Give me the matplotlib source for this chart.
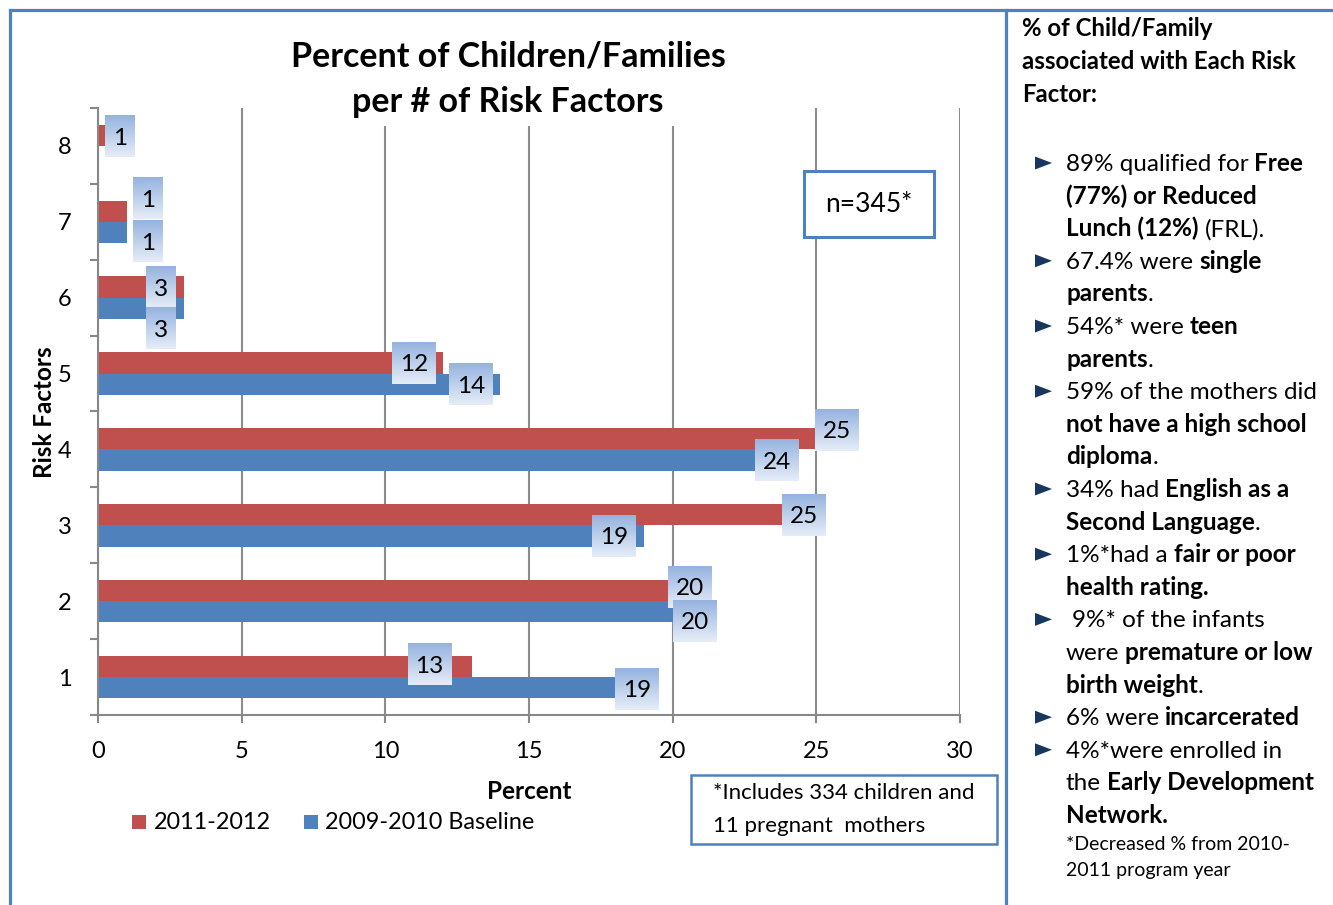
import matplotlib
matplotlib.use('Agg')
import matplotlib.pyplot as plt
import numpy as np
from matplotlib.patches import Rectangle, Polygon
from matplotlib.lines import Line2D

# ---------------- data ----------------
categories = [1, 2, 3, 4, 5, 6, 7, 8]
series_names = ['2011-2012', '2009-2010 Baseline']
values_2011 = [13, 20, 23.8, 25, 12, 3, 1, 0.25]
values_2009 = [19, 20, 19, 24, 14, 3, 1, 0]
labels_2011 = ['13', '20', '25', '25', '12', '3', '1', '1']
labels_2009 = ['19', '20', '19', '24', '14', '3', '1', '']
x_ticks = [0, 5, 10, 15, 20, 25, 30]

# label placement (pixels: dx from bar end, dy from bar centre, downward)
off_2011 = [(-42, -2), (17, -4), (22, 0), (21, -9), (-29, 0), (-23, 0), (21, -13), (15, 1)]
off_2009 = [(-7, 1), (22, 9), (-30, 0), (-11, 0), (-29, 0), (-23, 20), (21, 9), (0, 0)]

W, H = 1333, 905
plt.rcParams['font.family'] = ['Lato', 'DejaVu Sans']
fig = plt.figure(figsize=(W / 100, H / 100), dpi=100)
RED = '#C0504D'
BLUE = '#4F81BD'
GRID = '#8C8C8C'


def fx(px):
    return px / W


def fy(py):
    return 1 - py / H


ax = fig.add_axes([fx(98), fy(715), (960 - 98) / W, (715 - 108) / H])
bh = 0.28
y = np.array(categories, float)
ax.barh(y + bh / 2, values_2011, height=bh, color=RED, zorder=2, label=series_names[0])
ax.barh(y - bh / 2, values_2009, height=bh, color=BLUE, zorder=2, label=series_names[1])
ax.set_xlim(0, 30)
ax.set_ylim(0.5, 8.5)
ax.set_xticks(x_ticks)
ax.set_yticks(categories)
ax.set_yticks(np.arange(0.5, 9, 1), minor=True)
ax.tick_params(axis='y', which='major', length=0, pad=19, labelsize=17)
ax.tick_params(axis='y', which='minor', length=6, width=1.5, color='#888888', direction='out')
ax.tick_params(axis='x', length=6, width=1.5, color='#888888', pad=13, labelsize=17)
for s in ['top', 'right']:
    ax.spines[s].set_visible(False)
for s in ['left', 'bottom']:
    ax.spines[s].set_color('#888888')
    ax.spines[s].set_linewidth(1.5)
ax.grid(axis='x', color=GRID, lw=1.5)
ax.set_axisbelow(True)

# gradient data labels
top_c = np.array([0x95, 0xB3, 0xDF]) / 255
bot_c = np.array([0xE6, 0xED, 0xF8]) / 255
t = np.linspace(0, 1, 64)[:, None, None]
grad_img = top_c[None, None, :] * (1 - t) + bot_c[None, None, :] * t

inv = ax.transData.inverted()


def draw_label(val, yc, text, dxp, dyp):
    if not text:
        return
    bx, by = ax.transData.transform((val, yc))
    cx, cy = bx + dxp, by - dyp
    w = 16 + 14 * len(text)
    h = 42
    x0, y0 = inv.transform((cx - w / 2, cy - h / 2))
    x1, y1 = inv.transform((cx + w / 2, cy + h / 2))
    ax.imshow(grad_img, extent=[x0, x1, y0, y1], aspect='auto', zorder=4,
              interpolation='bilinear', clip_on=False)
    tx, ty = inv.transform((cx, cy - 8.5))
    ax.text(tx, ty, text, ha='center', va='baseline', fontsize=17.5, zorder=5, clip_on=False)


for i, c in enumerate(categories):
    draw_label(values_2011[i], c + bh / 2, labels_2011[i], *off_2011[i])
    draw_label(values_2009[i], c - bh / 2, labels_2009[i], *off_2009[i])
ax.set_xlim(0, 30)
ax.set_ylim(0.5, 8.5)

# title with white backing
fig.patches.append(Rectangle((fx(282), fy(126)), (738 - 282) / W, (126 - 25) / H,
                             transform=fig.transFigure, facecolor='white', edgecolor='none', zorder=1))
fig.text(fx(508), fy(57), 'Percent of Children/Families', ha='center', va='center',
         fontsize=24.5, fontweight='bold', zorder=2)
fig.text(fx(508), fy(102), 'per # of Risk Factors', ha='center', va='center',
         fontsize=24.5, fontweight='bold', zorder=2)

# axis titles
fig.text(fx(45), fy(412), 'Risk Factors', rotation=90, ha='center', va='center',
         fontsize=17.5, fontweight='bold')
fig.text(fx(529), fy(791), 'Percent', ha='center', va='center', fontsize=17.5, fontweight='bold')

# legend (manual)
for (sx, tx_), col, name in [((132, 154), RED, series_names[0]), ((304, 325), BLUE, series_names[1])]:
    fig.patches.append(Rectangle((fx(sx), fy(829)), 14 / W, 14 / H, transform=fig.transFigure,
                                 facecolor=col, edgecolor='none'))
    fig.text(fx(tx_), fy(829), name, ha='left', va='baseline', fontsize=16.8)

# n=345 box
fig.patches.append(Rectangle((fx(804), fy(237)), (934 - 804) / W, (237 - 171) / H,
                             transform=fig.transFigure, facecolor='white', edgecolor=BLUE,
                             lw=2.2, zorder=3))
fig.text(fx(869), fy(205), 'n=345*', ha='center', va='center', fontsize=19, zorder=4)

# footnote box
fig.patches.append(Rectangle((fx(691), fy(844)), (997 - 691) / W, (844 - 775) / H,
                             transform=fig.transFigure, facecolor='white', edgecolor=BLUE,
                             lw=1.8, zorder=3))
fig.text(fx(713), fy(799), '*Includes 334 children and', ha='left', va='baseline', fontsize=16, zorder=4)
fig.text(fx(713), fy(832), '11 pregnant  mothers', ha='left', va='baseline', fontsize=16, zorder=4)

# borders
lw_b = 2.3
fig.lines.append(Line2D([fx(10), 1], [fy(10), fy(10)], transform=fig.transFigure, color=BLUE, lw=lw_b))
fig.lines.append(Line2D([fx(10), fx(10)], [fy(10), 0], transform=fig.transFigure, color=BLUE, lw=lw_b))
fig.lines.append(Line2D([fx(1006), fx(1006)], [fy(10), 0], transform=fig.transFigure, color=BLUE, lw=lw_b))

# right panel
renderer = fig.canvas.get_renderer()


def text_width(s, bold, size):
    tt = fig.text(0, 0, s, fontsize=size, fontweight='bold' if bold else 'normal')
    w = tt.get_window_extent(renderer).width
    tt.remove()
    return w


def space_width(bold, size):
    return text_width('a a', bold, size) - text_width('aa', bold, size)


def draw_runs(x_px, base_py, segs, size):
    x = x_px
    for txt, bold in segs:
        n = len(txt) - len(txt.lstrip(' '))
        txt = txt.lstrip(' ')
        if n:
            x += n * space_width(bold, size)
        tt = fig.text(fx(x), fy(base_py), txt, fontsize=size,
                      fontweight='bold' if bold else 'normal', va='baseline', ha='left')
        x += tt.get_window_extent(renderer).width


heading = ['% of Child/Family', 'associated with Each Risk', 'Factor:']
for i, line in enumerate(heading):
    draw_runs(1022, 36 + 32.8 * i, [(line, True)], 17.3)

R, B = False, True
bullet_lines = [
    [('89% qualified for', R), (' Free', B)],
    [('(77%) or Reduced', B)],
    [('Lunch (12%)', B), (' (FRL).', R)],
    [('67.4% were', R), (' single', B)],
    [('parents', B), ('.', R)],
    [('54%* were', R), (' teen', B)],
    [('parents', B), ('.', R)],
    [('59% of the mothers did', R)],
    [('not have a high school', B)],
    [('diploma', B), ('.', R)],
    [('34% had', R), (' English as a', B)],
    [('Second Language', B), ('.', R)],
    [('1%*had a', R), (' fair or poor', B)],
    [('health rating.', B)],
    [(' 9%* of the infants', R)],
    [('were', R), (' premature or low', B)],
    [('birth weight', B), ('.', R)],
    [('6% were', R), (' incarcerated', B)],
    [('4%*were enrolled in', R)],
    [('the', R), (' Early Development', B)],
    [('Network.', B)],
]
bullet_rows = [0, 3, 5, 7, 10, 12, 14, 17, 18]
for k, segs in enumerate(bullet_lines):
    base = 171 + 32.6 * k
    draw_runs(1066, base, segs, 17.5)
    if k in bullet_rows:
        fig.patches.append(Polygon([(fx(1035), fy(base - 14.5)), (fx(1035), fy(base - 1.5)),
                                    (fx(1052), fy(base - 8))], closed=True,
                                   transform=fig.transFigure, facecolor='#17375E', edgecolor='none'))

draw_runs(1066, 850, [('*Decreased % from 2010-', R)], 14)
draw_runs(1066, 876, [('2011 program year', R)], 14)

fig.savefig('out.png', dpi=100)
